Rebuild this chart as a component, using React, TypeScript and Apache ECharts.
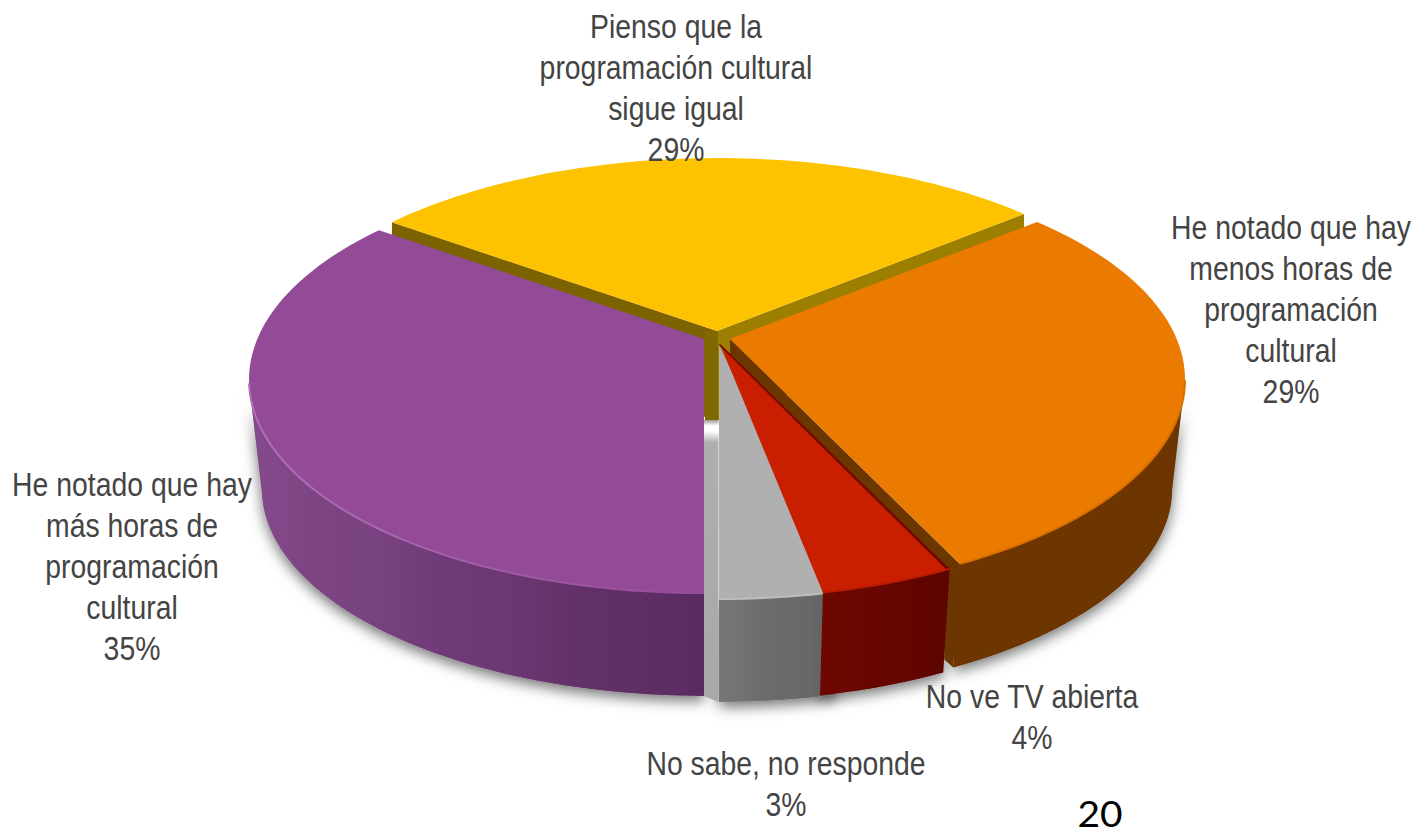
import React, { useEffect, useRef } from "react";
import * as echarts from "echarts";

const CATEGORIES = [
  "He notado que hay\nmás horas de\nprogramación\ncultural",
  "Pienso que la\nprogramación cultural\nsigue igual",
  "He notado que hay\nmenos horas de\nprogramación\ncultural",
  "No ve TV abierta",
  "No sabe, no responde",
];
const VALUES = [35, 29, 29, 4, 3];
const PAGE_NUMBER = "20";

const TOP_COLORS = ["#934A97", "#FDC300", "#EB7A00", "#C91F00", "#B0B0B0"];
const WALL_STOPS = [
  ["#864A8D", "#7C4483", "#78417F", "#6F3A77", "#6C3873", "#63316A", "#5F2E66", "#5A2A60"],
  ["#7F6500", "#7F6500"],
  ["#6D3600", "#6D3600"],
  ["#6E0800", "#680600", "#640500", "#5C0500"],
  ["#777777", "#707070", "#6A6A6A", "#686868", "#5E5E5E"],
];
// Slices are painted in this order, because the exploded pieces overlap.
const PAINT_ORDER = [1, 2, 4, 3, 0];

// Layout of the perspective disc.
const CX = 717;
const CY = 340;
const OFFSETS = [[-13, -1], [0, -9], [13, -1], [3, 4], [2, 5]];
const K = 0.19;
const RX = 446.7;
const RY = 205.8;
const DEPTH = 110;
const BOTTOM_SCALE = 0.972;
const INNER_DEPTH = 90;
const START_ANGLE = -90;
const GREY_OVERLAP = 1.6;

const LABEL_POS = [
  [132, 464],
  [676, 6],
  [1291, 207],
  [1032, 676],
  [786, 743],
];

type P = number[];
const total = VALUES.reduce((a, b) => a + b, 0);

function sliceAngles(i: number): [number, number] {
  let sum = 0;
  for (let j = 0; j < i; j++) sum += VALUES[j];
  const a = START_ANGLE - (sum / total) * 360;
  return [a, a - (VALUES[i] / total) * 360];
}

function project(deg: number): P {
  const t = (deg * Math.PI) / 180;
  const w = 1 + K * Math.sin(t);
  return [(RX * Math.cos(t)) / w, (-RY * Math.sin(t)) / w];
}

function apex(i: number): P {
  return [CX + OFFSETS[i][0], CY + OFFSETS[i][1]];
}

function topPoint(i: number, deg: number): P {
  const a = apex(i);
  const p = project(deg);
  return [a[0] + p[0], a[1] + p[1]];
}

function bottomPoint(i: number, deg: number): P {
  const a = apex(i);
  const p = project(deg);
  return [a[0] + p[0] * BOTTOM_SCALE, a[1] + DEPTH + p[1] * BOTTOM_SCALE];
}

function arcAngles(from: number, to: number): number[] {
  const n = Math.max(2, Math.ceil(Math.abs(from - to) / 1.5));
  const out: number[] = [];
  for (let k = 0; k <= n; k++) out.push(from + ((to - from) * k) / n);
  return out;
}

function frontAngles(i: number): number[] {
  const [a0, a1] = sliceAngles(i);
  const from = i === 4 ? a0 + GREY_OVERLAP : a0;
  // Only the part below the outline's tangent points is visible as a wall.
  return arcAngles(from, a1).filter((d) => Math.sin((d * Math.PI) / 180) <= -K);
}

function wallPoints(i: number): P[] {
  const f = frontAngles(i);
  return [...f.map((d) => topPoint(i, d)), ...f.slice().reverse().map((d) => bottomPoint(i, d))];
}

function orangeFace(i: number): P[] {
  const a1 = sliceAngles(i)[1];
  const t = topPoint(i, a1);
  const b = bottomPoint(i, a1);
  return [t, b, [b[0] - 9, b[1] - 8], [t[0] - 14, t[1] - 4]];
}

function hGrad(stops: string[]) {
  return new echarts.graphic.LinearGradient(
    0, 0, 1, 0,
    stops.map((c, idx) => ({ offset: idx / (stops.length - 1), color: c }))
  );
}

function faceDown(p0: P, p1: P, d: number): P[] {
  return [p0, p1, [p1[0], p1[1] + d], [p0[0], p0[1] + d]];
}

function renderSlice(params: any) {
  const i = PAINT_ORDER[params.dataIndex];
  const [a0, a1] = sliceAngles(i);
  const A = apex(i);
  const tip0 = topPoint(i, a0);
  const tip1 = topPoint(i, a1);
  const children: any[] = [];

  if (i === 1) {
    children.push({ type: "polygon", shape: { points: faceDown(A, tip0, INNER_DEPTH) }, style: { fill: "#7C6300" } });
    children.push({ type: "polygon", shape: { points: faceDown(A, tip1, INNER_DEPTH) }, style: { fill: "#9C7E00" } });
    children.push({ type: "polygon", shape: { points: [[A[0] - 12, A[1]], [A[0] + 1, A[1]], [A[0] + 1, A[1] + INNER_DEPTH], [A[0] - 12, A[1] + INNER_DEPTH]] }, style: { fill: "#816700" } });
  }
  if (i === 2) {
    children.push({ type: "polygon", shape: { points: faceDown(A, tip1, 100) }, style: { fill: "#6B3600" } });
    children.push({ type: "polygon", shape: { points: orangeFace(i) }, style: { fill: "#6B3600" } });
  }
  if (i === 4) {
    const x0 = A[0] - 15;
    const x1 = A[0] - 0.5;
    const yTop = 420;
    const yBot = bottomPoint(i, a1)[1];
    children.push({
      type: "polygon",
      shape: { points: [[x0, yTop], [x1, yTop], [x1, yBot], [x0, yBot - 6]] },
      style: {
        fill: new echarts.graphic.LinearGradient(0, 0, 0, 1, [
          { offset: 0, color: "#9a9a9a" },
          { offset: 0.02, color: "#ffffff" },
          { offset: 0.04, color: "#ffffff" },
          { offset: 0.08, color: "#aeaeae" },
          { offset: 1, color: "#a8a8a8" },
        ]),
      },
    });
  }
  if (i !== 1) {
    children.push({ type: "polygon", shape: { points: wallPoints(i) }, style: { fill: hGrad(WALL_STOPS[i]) } });
  }
  const topFrom = i === 4 ? a0 + GREY_OVERLAP : a0;
  const pts = [A, ...arcAngles(topFrom, a1).map((d) => topPoint(i, d))];
  children.push({ type: "polygon", shape: { points: pts }, style: { fill: TOP_COLORS[i] } });
  if (i === 3) {
    children.push({
      type: "polygon",
      shape: { points: [A, tip0, [tip0[0] - 3, tip0[1] + 1], [A[0] - 1, A[1] + 1]] },
      style: { fill: "#6A0A00" },
    });
  }
  const rim: Record<number, any> = {
    0: hGrad(["#B06EB6", "#A865AE", "#9C56A2", "#954C99"]),
    2: "#D96F00",
    4: "#BDBDBD",
    3: "#B81C00",
  };
  if (rim[i]) {
    const f = frontAngles(i);
    children.push({ type: "polyline", shape: { points: f.map((d) => topPoint(i, d)) }, style: { stroke: rim[i], lineWidth: 2, fill: "none" } });
  }
  return { type: "group", children };
}

function renderShadow(params: any) {
  const i = params.dataIndex;
  if (i === 1) return { type: "group", children: [] };
  return {
    type: "polygon",
    shape: { points: wallPoints(i) },
    style: {
      fill: "#999999",
      shadowBlur: 14,
      shadowColor: "rgba(0,0,0,0.55)",
      shadowOffsetX: 0,
      shadowOffsetY: 5,
    },
  };
}

function renderLabel(params: any) {
  const i = params.dataIndex;
  return {
    type: "text",
    x: LABEL_POS[i][0],
    y: LABEL_POS[i][1],
    scaleX: 0.86,
    style: {
      text: `${CATEGORIES[i]}\n${VALUES[i]}%`,
      x: 0,
      y: 0,
      fill: "#444444",
      fontFamily: "Liberation Sans",
      fontSize: 33,
      lineHeight: 41,
      align: "center",
      verticalAlign: "top",
    },
  };
}

export default function App() {
  const ref = useRef<HTMLDivElement>(null);
  useEffect(() => {
    const chart = echarts.init(ref.current!, undefined, { renderer: "svg" });
    chart.setOption({
      animation: false,
      backgroundColor: "#ffffff",
      series: [
        { type: "custom", coordinateSystem: "none", z: 1, silent: true, data: VALUES.map((v) => [v]), renderItem: renderShadow },
        { type: "custom", coordinateSystem: "none", z: 2, silent: true, data: PAINT_ORDER.map((i) => [VALUES[i]]), renderItem: renderSlice },
        { type: "custom", coordinateSystem: "none", z: 3, silent: true, data: VALUES.map((v) => [v]), renderItem: renderLabel },
      ],
      graphic: {
        elements: [
          {
            type: "text",
            z: 10,
            x: 1100,
            y: 813,
            scaleX: 1.08,
            style: { text: PAGE_NUMBER, fill: "#000000", fontFamily: "Lato", fontSize: 36, align: "center", verticalAlign: "middle" },
          },
        ],
      },
    });
    return () => chart.dispose();
  }, []);
  return <div ref={ref} style={{ position: "fixed", left: 0, top: 0, width: 1415, height: 835 }} />;
}
